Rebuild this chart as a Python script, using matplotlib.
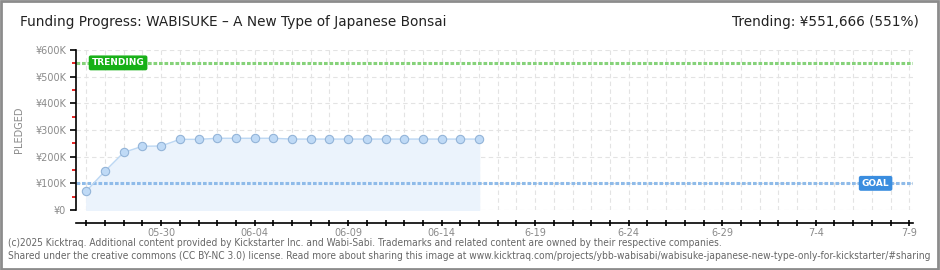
import numpy as np
import matplotlib.pyplot as plt
from matplotlib.patches import Rectangle
from matplotlib.ticker import FuncFormatter, MultipleLocator

# data, day 0 = 05-26, last day = 07-09
days_total = 44
pledged = [71000, 146000, 216000, 239000, 240000, 265000, 265000, 269000,
           269000, 269000, 269000, 266000, 266000, 266000, 266000, 266000,
           266000, 266000, 266000, 266000, 266000, 266000]
goal = 100000
trending = 551666
xlabels = {4: "05-30", 9: "06-04", 14: "06-09", 19: "06-14", 24: "6-19",
           29: "6-24", 34: "6-29", 39: "7-4", 44: "7-9"}
title = "Funding Progress: WABISUKE – A New Type of Japanese Bonsai"
footer1 = ("(c)2025 Kicktraq. Additional content provided by Kickstarter Inc. and Wabi-Sabi. "
           "Trademarks and related content are owned by their respective companies.")
footer2 = ("Shared under the creative commons (CC BY-NC 3.0) license. Read more about sharing this image at "
           "www.kicktraq.com/projects/ybb-wabisabi/wabisuke-japanese-new-type-only-for-kickstarter/#sharing")

plt.rcParams['font.family'] = ['DejaVu Sans']
fig = plt.figure(figsize=(9.4, 2.7), dpi=100)
W, H = 940, 270

ax = fig.add_axes([76/W, 1 - 210/H, (913-76)/W, 160/H])
x = np.arange(len(pledged))

ax.fill_between(x, 0, pledged, color="#ebf3fc", zorder=1)
ax.plot(x, pledged, color="#bcd7f3", lw=1, zorder=3)
ax.plot(x, pledged, "o", ms=6, mfc="#bfdaf6", mec="#93b4d8", mew=0.8, zorder=4)

# goal and trending lines
ax.axhline(goal, color="#8fbbe9", lw=2.2, ls=(0, (1.2, 0.6)), zorder=2)
ax.axhline(trending, color="#86d27a", lw=2.2, ls=(0, (1.2, 0.6)), zorder=2)
ax.text(1.7, trending, "TRENDING", color="white", fontsize=6.5, ha="center", va="center",
        fontweight="bold", zorder=5,
        bbox=dict(boxstyle="round,pad=0.25,rounding_size=0.15", fc="#17b017", ec="#17b017"))
ax.text(42.2, goal, "GOAL", color="white", fontsize=6.5, ha="center", va="center",
        fontweight="bold", zorder=5,
        bbox=dict(boxstyle="round,pad=0.25,rounding_size=0.15", fc="#3a8ddf", ec="#3a8ddf"))

ax.set_xlim(-0.55, days_total + 0.2)
ax.set_ylim(0, 600000)

# grid
for d in range(days_total + 1):
    ax.axvline(d, color="#e3e3e3", lw=0.8, ls=(0, (4, 3)), zorder=0)
for v in range(0, 600001, 100000):
    ax.axhline(v, color="#e3e3e3", lw=0.8, ls=(0, (4, 3)), zorder=0)

ax.spines["top"].set_visible(False)
ax.spines["right"].set_visible(False)
ax.spines["left"].set_linewidth(1.2)
ax.spines["bottom"].set_position(("outward", 9))
ax.spines["bottom"].set_linewidth(1.2)
ax.spines["bottom"].set_bounds(-0.55, days_total + 0.2)

ax.yaxis.set_major_locator(MultipleLocator(100000))
ax.yaxis.set_minor_locator(MultipleLocator(50000))
ax.yaxis.set_major_formatter(FuncFormatter(lambda v, p: "¥0" if v == 0 else "¥%dK" % (v / 1000)))
ax.tick_params(axis="y", which="major", length=4, width=1.2, color="black",
               labelsize=7, labelcolor="#8a8a8a", pad=3)
ax.tick_params(axis="y", which="minor", length=3, width=1.2, color="#e00000")

ax.set_xticks(range(days_total + 1))
ax.set_xticklabels([xlabels.get(d, "") for d in range(days_total + 1)])
ax.tick_params(axis="x", direction="inout", length=4.5, width=1.2,
               labelsize=7, labelcolor="#8a8a8a", pad=2)

ax.set_ylabel("PLEDGED", fontsize=7, color="#8a8a8a", labelpad=8)

fig.text(20/W, 1 - 22/H, title, fontsize=9.8, color="#222222", va="center", ha="left")
fig.text(919/W, 1 - 22/H, "Trending: ¥551,666 (551%)", fontsize=9.8, color="#222222",
         va="center", ha="right")
fig.text(8/W, 1 - 243/H, footer1, fontsize=7.3, color="#666666", va="center", ha="left",
         fontstretch="condensed")
fig.text(8/W, 1 - 256/H, footer2, fontsize=7.3, color="#666666", va="center", ha="left",
         fontstretch="condensed")

fig.add_artist(Rectangle((0.001, 0.002), 0.997, 0.995, transform=fig.transFigure,
                         fill=False, ec="#8c8c8c", lw=2))

fig.savefig("out.png", dpi=100)
